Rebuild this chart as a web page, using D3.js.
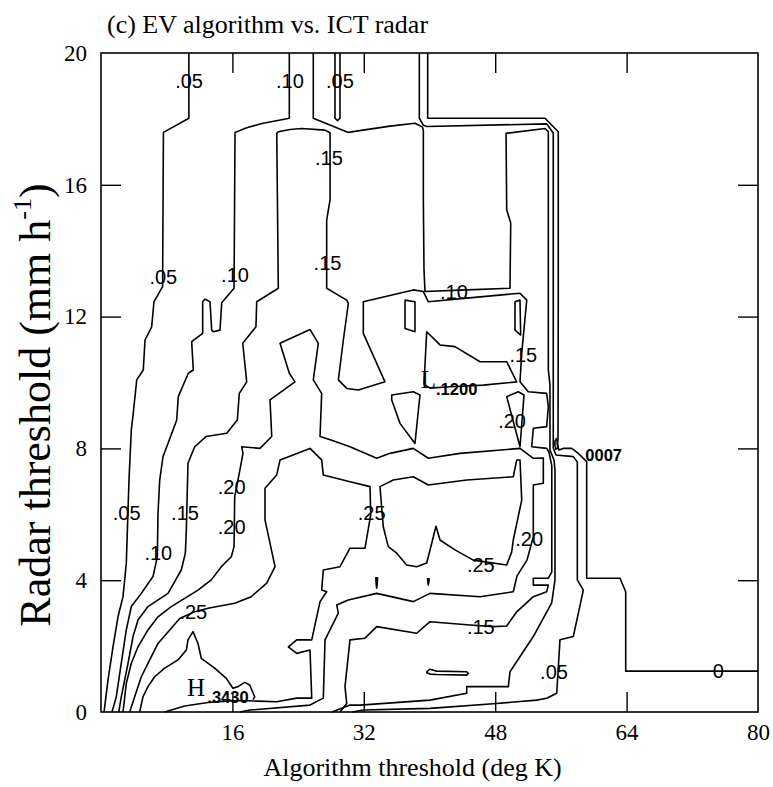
<!DOCTYPE html>
<html>
<head>
<meta charset="utf-8">
<script src="https://cdn.jsdelivr.net/npm/d3@7"></script>
<style>
  body { margin: 0; background: #fff; }
  svg { display: block; }
</style>
</head>
<body>
<svg id="chart" width="773" height="787"></svg>
<script>
// Skill-score contours: EV algorithm threshold (deg K) against ICT radar threshold (mm/h)

const xDomain = [0, 80];
const yDomain = [0, 20];
const xTickLabels = [16, 32, 48, 64, 80];
const yTickLabels = [0, 4, 8, 12, 16, 20];
const xTickMarks = [16, 32, 48, 64];
const yTickMarks = [4, 8, 12, 16];

// Contour polylines, points are [algorithm threshold, radar threshold]
const c05West = [[10.7,20],[10.7,18.02],[7.6,17.59],[7.5,12.91],[6.45,12.45],[6.17,11.69],[5.36,11.29],[5.15,10.38],[4.35,10.08],[3.93,9.07],[3.69,8.56],[3.41,7.04],[3.08,4.51],[2.68,3.5],[2.07,2.89],[1.46,1.98],[0.85,0.97],[0.37,0]];

const c10West = [[22.93,20],[22.93,18.02],[19.6,17.86],[17.74,17.73],[16.32,17.59],[16.2,12.86],[14.7,12.42],[14.49,11.59],[13.67,11.54],[13.48,11.59],[13.27,12.45],[12.66,12.53],[12.38,12.45],[12.38,11.49],[11.04,11.24],[11.24,10.38],[10.63,10.28],[9.41,9.57],[9.22,8.86],[8.77,8.56],[7.55,7.75],[7.15,7.04],[6.94,6.03],[6.86,4.71],[6.33,4.11],[4.91,3.6],[3.69,3.2],[3.08,2.49],[2.47,1.48],[1.86,0.46],[1.34,0]];

const c15Main = [[2.16,0],[2.47,0.46],[3.29,1.48],[3.9,2.29],[4.51,2.79],[5.72,3.2],[8.16,3.6],[9.78,4.31],[10.27,4.82],[10.39,5.52],[10.59,7.55],[11.41,8.05],[12.79,8.36],[15.31,8.46],[16.6,8.86],[16.84,9.67],[17.74,10.02],[17.26,11.19],[18.87,11.69],[18.96,12.45],[21.59,12.86],[21.4,17.56],[21.59,17.61],[23.02,17.68],[24.44,17.71],[27.28,17.66],[27.89,17.58],[27.89,15.54],[27.48,14.93],[27.48,12.86],[29.92,12.5],[30.12,12.4],[29.51,11.29],[28.9,10.08],[29.92,9.82],[31.33,9.77],[34.58,10.02],[31.94,11.49],[31.94,12.45],[38.03,12.81],[39.25,12.76],[39.86,12.45],[44.53,12.56],[51.02,12.71],[51.84,12.5],[51.23,10.89],[51.02,10.02],[52.03,9.72],[54.27,9.67],[54.47,9.27],[54.27,8.66],[52.64,8.61],[52.45,8.05],[54.27,8.0],[54.55,7.89],[54.89,7.47],[54.89,4.25],[54.47,4.06],[52.64,4.06],[52.64,3.85],[54.47,3.85],[54.27,3.65],[52.64,3.5],[50.62,3.04],[49.4,2.61],[47.77,2.59],[44.93,2.64],[40.06,2.74],[38.44,2.39],[33.57,2.59],[32.15,2.24],[30.32,2.19],[29.71,0.77],[29.92,0.26],[29.1,0]];

const c20Main = [[2.68,0],[3.08,0.87],[3.69,1.48],[4.51,1.98],[5.72,2.49],[6.94,2.89],[8.56,3.2],[10.19,3.45],[11.81,3.7],[13.43,4.01],[14.65,4.41],[15.87,4.71],[16.2,5.02],[16.28,6.53],[16.68,7.04],[17.29,7.85],[17.13,8.05],[19.36,8.0],[20.79,8.36],[20.58,9.47],[23.62,10.02],[22.93,10.28],[21.8,11.19],[25.45,11.61],[26.46,11.19],[25.85,10.08],[26.87,9.67],[26.67,8.36],[28.09,8.25],[30.32,8.05],[33.57,7.7],[35.19,7.85],[38.03,8.0],[39.86,7.7],[43.71,7.85],[51.02,8.0],[52.64,7.7],[53.86,7.71],[53.86,6.94],[52.64,6.89],[52.64,5.32],[51.87,4.61],[50.66,4.13],[50.2,3.65],[46.15,3.5],[40.06,3.6],[38.03,3.35],[33.57,3.6],[30.11,3.4],[28.7,3.25],[28.9,3.0],[27.28,2.19],[27.07,0.42],[25.45,0.21],[18.14,0.06],[16.93,0]];

const c25Main = [[3.49,0],[4.1,0.46],[4.91,1.07],[5.93,1.58],[6.94,2.08],[8.37,2.49],[9.58,2.84],[11.41,3.04],[13.03,3.15],[16.28,3.3],[18.3,3.5],[20.18,3.91],[21.19,4.41],[19.97,5.83],[19.97,6.79],[21.39,7.19],[21.8,7.65],[25.45,8.0],[26.87,7.65],[27.07,7.19],[30.32,6.99],[32.76,6.84],[32.84,5.98],[32.15,4.97],[30.32,4.97],[29.1,4.41],[27.07,4.31],[26.87,3.7],[27.48,3.65],[26.67,3.35],[25.66,2.19],[23.83,2.19],[22.81,1.98],[23.83,1.78],[25.45,1.88],[25.66,0.42],[23.83,0.42],[21.39,0.31],[19.12,0.33],[16.68,0.35],[13.03,0.29],[10.19,0.18],[7.76,0]];

const c25East = [[33.97,6.84],[35.59,7.04],[38.03,7.14],[39.86,6.89],[44.53,7.04],[50.2,7.14],[50.62,7.65],[51.02,7.65],[51.23,6.43],[50.2,5.22],[50.01,4.86],[49.4,4.46],[45.33,4.61],[43.1,4.92],[41.28,5.22],[40.79,5.64],[40.31,5.16],[39.66,4.52],[38.44,4.41],[37.22,4.46],[36.01,4.82],[34.98,5.02],[34.37,5.62]];

const c30Peak = [[4.71,0],[5.11,0.46],[5.72,0.77],[6.54,1.07],[7.76,1.33],[9.38,1.58],[10.39,1.88],[10.59,2.19],[11.2,2.44],[11.81,2.08],[12.21,1.63],[13.84,1.33],[15.26,1.02],[16.07,0.72],[16.68,0.77],[17.5,0.9],[18.11,0.82],[18.72,0.46],[18.5,0.38]];

const c10East = [[25.85,20],[25.85,18.02],[30.11,17.59],[31.9,17.66],[35.19,17.78],[38.23,17.87],[39.15,17.75],[39.25,17.66],[39.25,15.54],[39.33,13.41],[39.45,12.76],[44.53,12.81],[49.8,12.86],[49.89,14.84],[49.4,15.24],[49.32,17.56],[54.07,17.71],[54.47,17.61],[54.47,10.38],[54.67,9.92],[54.67,7.95],[55.16,7.65],[55.28,7.34],[55.28,4.01],[54.88,3.31],[52.64,2.29],[49.8,1.22],[49.6,0.77],[44.53,0.77],[44.53,0.57],[40.06,0.36],[31.54,0.21],[30.32,0.21],[28.13,0]];

const c05East = [[38.76,20],[38.76,18.02],[39.25,17.81],[39.7,17.77],[54.27,17.85],[55.07,17.57],[55.07,8.01],[55.4,7.8],[57.51,7.75],[58.0,7.59],[58.0,4.01],[58.73,3.7],[57.51,2.29],[55.89,2.19],[55.49,0.57],[54.27,0.42],[53.05,0.36],[48.18,0.26],[40.06,0.11],[31.94,0.06],[30.6,0]];

const c05Notch = [[28.49,20],[28.49,18.02],[28.8,17.95],[29.1,18.02],[29.1,20]];

const c00 = [[39.78,20],[39.78,18.02],[54.07,18.02],[55.68,17.61],[55.68,12.5],[55.65,8.25],[55.53,8.16],[55.77,7.95],[56.29,8.0],[57.32,8.0],[58.12,7.85],[59.14,7.6],[59.14,4.06],[63.2,4.06],[63.89,3.65],[63.89,1.24],[80,1.24]];

// small closed contours
const loopMin = [[55.28,8.22],[55.46,8.3],[55.6,8.19],[55.6,8.01],[55.38,7.97],[55.27,8.1]];
const boxWest = [[37.02,12.5],[38.23,12.45],[38.23,11.54],[37.02,11.64]];
const boxEast = [[50.41,12.45],[51.02,12.5],[51.1,11.44],[50.41,11.59]];
const loopLow = [[39.33,9.95],[39.66,11.54],[41.28,11.14],[43.1,11.09],[46.15,10.63],[49.4,10.63],[50.62,10.02],[46.55,9.92],[42.5,9.87],[40.06,9.83]];
const loopTri = [[35.4,9.62],[38.03,9.72],[38.84,9.62],[38.23,8.15],[36.41,8.76],[35.4,9.47]];
const loop20 = [[49.4,9.57],[50.81,9.72],[51.51,9.62],[51.02,8.05]];
const dropA = [[33.46,4.07],[33.68,4.07],[33.63,3.88],[33.57,3.76],[33.51,3.88]];
const dropB = [[39.76,4.04],[39.96,4.04],[39.9,3.92],[39.85,3.85],[39.81,3.92]];
const sliver = [[39.66,1.22],[40.06,1.3],[40.88,1.24],[44.53,1.22],[44.73,1.17],[44.53,1.12],[40.88,1.14],[40.06,1.15],[39.66,1.19]];

const contours = [
  {level: 0.05, pts: c05West},
  {level: 0.10, pts: c10West},
  {level: 0.15, pts: c15Main},
  {level: 0.20, pts: c20Main},
  {level: 0.25, pts: c25Main},
  {level: 0.25, pts: c25East, closed: true},
  {level: 0.30, pts: c30Peak},
  {level: 0.10, pts: c10East},
  {level: 0.05, pts: c05East},
  {level: 0.05, pts: c05Notch},
  {level: 0.00, pts: c00},
  {level: 0.00, pts: loopMin, closed: true},
  {level: 0.10, pts: boxWest, closed: true},
  {level: 0.10, pts: boxEast, closed: true},
  {level: 0.15, pts: loopLow, closed: true},
  {level: 0.15, pts: loopTri, closed: true},
  {level: 0.20, pts: loop20, closed: true},
  {level: 0.25, pts: dropA, closed: true},
  {level: 0.25, pts: dropB, closed: true},
  {level: 0.20, pts: sliver, closed: true}
];

// contour value labels [x, y, text]
const levelLabels = [
  [10.72,19.16,".05"], [23.01,19.16,".10"], [29.1,19.16,".05"],
  [27.76,16.81,".15"], [27.58,13.64,".15"],
  [7.59,13.21,".05"], [16.32,13.26,".10"],
  [42.98,12.76,".10"], [51.42,10.83,".15"], [50.05,8.84,".20"],
  [3.13,6.03,".05"], [10.23,6.03,".15"], [15.91,6.84,".20"], [15.91,5.62,".20"],
  [6.98,4.82,".10"], [32.96,6.03,".25"], [11.24,3.04,".25"],
  [52.14,5.25,".20"], [46.25,4.46,".25"], [46.25,2.59,".15"],
  [55.16,1.22,".05"], [75.17,1.24,"0"]
];

// extrema markers: [x, y, symbol] and [x, y, value]
const extremaSymbols = [[39.86,10.08,"L"], [11.57,0.73,"H"]];
const extremaValues = [[43.31,9.81,".1200"], [15.46,0.46,".3430"], [61.21,7.81,"0007"]];

const svg = d3.select("#chart");
const x = d3.scaleLinear().domain(xDomain).range([101, 758]);
const y = d3.scaleLinear().domain(yDomain).range([712, 53]);
const line = d3.line().x(d => x(d[0])).y(d => y(d[1]));

const serif = "'Liberation Serif', 'Times New Roman', Times, serif";
const sans = "'Liberation Sans', Arial, Helvetica, sans-serif";

// contour lines
svg.append("g")
  .selectAll("path")
  .data(contours)
  .join("path")
  .attr("d", d => line(d.pts) + (d.closed ? "Z" : ""))
  .attr("fill", "none")
  .attr("stroke", "#000")
  .attr("stroke-width", 1.6)
  .attr("stroke-linejoin", "round");

// frame
svg.append("rect")
  .attr("x", x(0)).attr("y", y(20))
  .attr("width", x(80) - x(0)).attr("height", y(0) - y(20))
  .attr("fill", "none").attr("stroke", "#000").attr("stroke-width", 1.6);

// inward ticks on all four sides
function tickOnly(g) {
  g.select(".domain").remove();
  g.selectAll("line").attr("stroke", "#000").attr("stroke-width", 1.4);
  g.selectAll("text").remove();
}
svg.append("g").attr("transform", `translate(0,${y(0)})`)
  .call(d3.axisBottom(x).tickValues(xTickMarks).tickSizeInner(-20).tickSizeOuter(0)).call(tickOnly);
svg.append("g").attr("transform", `translate(0,${y(20)})`)
  .call(d3.axisTop(x).tickValues(xTickMarks).tickSizeInner(-20).tickSizeOuter(0)).call(tickOnly);
svg.append("g").attr("transform", `translate(${x(0)},0)`)
  .call(d3.axisLeft(y).tickValues(yTickMarks).tickSizeInner(-20).tickSizeOuter(0)).call(tickOnly);
svg.append("g").attr("transform", `translate(${x(80)},0)`)
  .call(d3.axisRight(y).tickValues(yTickMarks).tickSizeInner(-20).tickSizeOuter(0)).call(tickOnly);

// tick labels
function labelStyle(g) {
  g.select(".domain").remove();
  g.selectAll("line").remove();
  g.selectAll("text").attr("font-family", serif).attr("font-size", 23).attr("fill", "#000");
}
svg.append("g").attr("transform", `translate(0,${y(0)})`)
  .call(d3.axisBottom(x).tickValues(xTickLabels).tickSize(0).tickPadding(12)).call(labelStyle);
svg.append("g").attr("transform", `translate(${x(0)},0)`)
  .call(d3.axisLeft(y).tickValues(yTickLabels).tickSize(0).tickPadding(14)).call(labelStyle);

// contour labels
svg.append("g")
  .selectAll("text")
  .data(levelLabels)
  .join("text")
  .attr("x", d => x(d[0])).attr("y", d => y(d[1]))
  .attr("text-anchor", "middle").attr("dominant-baseline", "central")
  .attr("font-family", sans).attr("font-size", 20).attr("fill", "#000")
  .text(d => d[2]);

svg.append("g")
  .selectAll("text")
  .data(extremaSymbols)
  .join("text")
  .attr("x", d => x(d[0])).attr("y", d => y(d[1]))
  .attr("text-anchor", "middle").attr("dominant-baseline", "central")
  .attr("font-family", serif).attr("font-size", 25).attr("fill", "#000")
  .text(d => d[2]);

svg.append("g")
  .selectAll("text")
  .data(extremaValues)
  .join("text")
  .attr("x", d => x(d[0])).attr("y", d => y(d[1]))
  .attr("text-anchor", "middle").attr("dominant-baseline", "central")
  .attr("font-family", sans).attr("font-weight", "bold").attr("font-size", 16.5).attr("fill", "#000")
  .text(d => d[2]);

// title and axis titles
svg.append("text")
  .attr("x", 107).attr("y", 33)
  .attr("font-family", serif).attr("font-size", 26).attr("fill", "#000")
  .text("(c) EV algorithm vs. ICT radar");

svg.append("text")
  .attr("x", (x(0) + x(80)) / 2 - 17).attr("y", 776)
  .attr("text-anchor", "middle")
  .attr("font-family", serif).attr("font-size", 26).attr("fill", "#000")
  .text("Algorithm threshold (deg K)");

const yTitle = svg.append("text")
  .attr("transform", "translate(50,405) rotate(-90)")
  .attr("text-anchor", "middle")
  .attr("font-family", serif).attr("font-size", 44).attr("fill", "#000");
yTitle.append("tspan").text("Radar threshold (mm h");
yTitle.append("tspan").attr("font-size", 26).attr("dy", "-0.75em").text("-1");
yTitle.append("tspan").attr("dy", "0.45em").text(")");
</script>
</body>
</html>
